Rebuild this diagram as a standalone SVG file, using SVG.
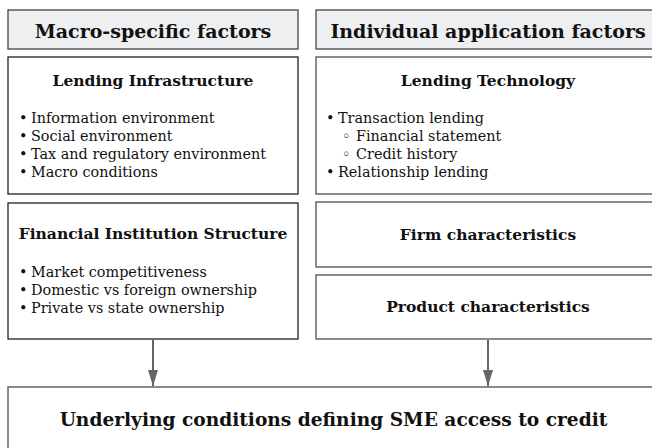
<svg xmlns="http://www.w3.org/2000/svg" width="652" height="448" viewBox="0 0 652 448">
<style>
text{font-family:"DejaVu Serif","Liberation Serif",serif;fill:#111}
.hdr{fill:#eeeff1;stroke:#444;stroke-width:1.3}
.lbox{fill:#fff;stroke:#222;stroke-width:1.3}
.rbox{fill:#fff;stroke:#666;stroke-width:1.5}
.h{font-size:19px;font-weight:bold;text-anchor:middle}
.t{font-size:15.5px;font-weight:bold;text-anchor:middle}
.b{font-size:14.4px}
.big{font-size:18.6px;font-weight:bold;text-anchor:middle}
.conn{stroke:#666;stroke-width:2;fill:none}
</style>
<defs>
<marker id="ah" markerWidth="16" markerHeight="10" refX="16" refY="5" orient="auto" markerUnits="userSpaceOnUse" viewBox="0 0 16 10">
<path d="M0,0 L16,5 L0,10 Z" fill="#666"/>
</marker>
</defs>
<g id="hdr-macro"><rect class="hdr" x="8" y="10" width="290" height="39"/><text class="h" x="153" y="38">Macro-specific factors</text></g>
<g id="hdr-indiv"><rect class="hdr" x="316" y="10" width="346" height="39"/><text class="h" x="488" y="38">Individual application factors</text></g>
<g id="lending-infra"><rect class="lbox" x="8" y="57" width="290" height="137"/>
<text class="t" x="153" y="86">Lending Infrastructure</text>
<text class="b" x="19" y="123">•</text><text class="b" x="31" y="123">Information environment</text>
<text class="b" x="19" y="141">•</text><text class="b" x="31" y="141">Social environment</text>
<text class="b" x="19" y="159">•</text><text class="b" x="31" y="159">Tax and regulatory environment</text>
<text class="b" x="19" y="177">•</text><text class="b" x="31" y="177">Macro conditions</text></g>
<g id="lending-tech"><rect class="rbox" x="316" y="57" width="346" height="137"/>
<text class="t" x="488" y="86">Lending Technology</text>
<text class="b" x="326" y="123">•</text><text class="b" x="338" y="123">Transaction lending</text>
<text class="b" x="342" y="141">◦</text><text class="b" x="356" y="141">Financial statement</text>
<text class="b" x="342" y="159">◦</text><text class="b" x="356" y="159">Credit history</text>
<text class="b" x="326" y="177">•</text><text class="b" x="338" y="177">Relationship lending</text></g>
<g id="fin-inst"><rect class="lbox" x="8" y="203" width="290" height="136"/>
<text class="t" x="153" y="239">Financial Institution Structure</text>
<text class="b" x="19" y="277">•</text><text class="b" x="31" y="277">Market competitiveness</text>
<text class="b" x="19" y="295">•</text><text class="b" x="31" y="295">Domestic vs foreign ownership</text>
<text class="b" x="19" y="313">•</text><text class="b" x="31" y="313">Private vs state ownership</text></g>
<g id="firm"><rect class="rbox" x="316" y="202" width="346" height="65"/><text class="t" x="488" y="240">Firm characteristics</text></g>
<g id="product"><rect class="rbox" x="316" y="275" width="346" height="64"/><text class="t" x="488" y="312">Product characteristics</text></g>
<g id="underlying"><rect class="rbox" x="8" y="387" width="654" height="80"/><text class="big" x="333.5" y="426">Underlying conditions defining SME access to credit</text></g>
<g id="connectors">
<line class="conn" x1="153" y1="340" x2="153" y2="386" marker-end="url(#ah)"/>
<line class="conn" x1="488" y1="340" x2="488" y2="386" marker-end="url(#ah)"/>
</g>
</svg>
